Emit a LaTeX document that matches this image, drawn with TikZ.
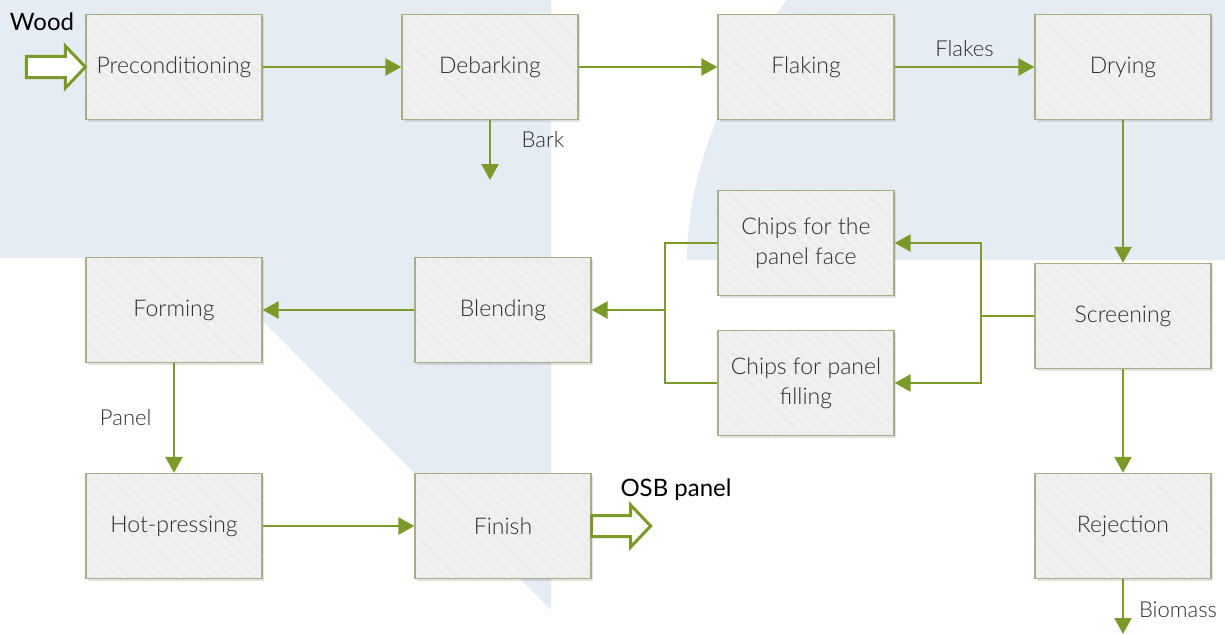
\documentclass[tikz,border=0pt]{standalone}
\usepackage{fontspec}
\setmainfont{Lato}[UprightFont={* Light}]
\newfontfamily\iofont{Lato}
\usepackage{tikz}
\usetikzlibrary{arrows.meta,shadows,patterns.meta,calc}
\definecolor{lgreen}{RGB}{124, 154, 42}
\definecolor{lolive}{RGB}{168, 175, 134}
\definecolor{lgray}{RGB}{237, 237, 237}
\definecolor{lstripe}{RGB}{242, 242, 242}
\definecolor{lblue}{RGB}{229, 236, 244}
\definecolor{dgray}{RGB}{45, 45, 45}

\tikzset{
	stepbox/.style={drop shadow={shadow xshift=1.5pt, shadow yshift=-2.5pt, opacity=0.25, fill=black!45},
		preaction={fill=lgray}, pattern={Lines[angle=-45,distance=8pt,line width=3pt]}, pattern color=lstripe,
		draw=lolive, line width=1.3pt, minimum width=176pt, minimum height=105pt,
		align=center, text=dgray, font=\fontsize{23}{30}\selectfont},
	flow/.style={draw=lgreen, line width=2.5pt, -{Triangle[length=16pt,width=17pt]}},
	link/.style={draw=lgreen, line width=2.5pt},
	bigarrow/.style={draw=lgreen, line width=3pt, fill=white, line join=miter},
	lbl/.style={text=dgray, font=\fontsize{22}{26}\selectfont},
	iolbl/.style={text=black, font=\iofont\fontsize{24}{28}\selectfont}
}

\begin{document}
\begin{tikzpicture}[x=1pt, y=-1pt]
		\useasboundingbox (0,0) rectangle (1225,634);
		% background
		\fill[lblue] (0,0) -- (551,0) -- (551,610) -- (200,258) -- (0,258) -- cycle;
		\fill[lblue] (787,0) .. controls (728,75) and (687,170) .. (687,260) -- (1225,260) -- (1225,0) -- cycle;
		% steps
		\node (pre) at (174,67) [stepbox] {Preconditioning};
		\node (deb) at (490,67) [stepbox] {Debarking};
		\node (flk) at (806,67) [stepbox] {Flaking};
		\node (dry) at (1123,67) [stepbox] {Drying};
		\node (face) at (806,243) [stepbox] {Chips for the\\panel face};
		\node (filling) at (806,383) [stepbox] {Chips for panel\\filling};
		\node (scr) at (1123,316) [stepbox] {Screening};
		\node (rej) at (1123,526) [stepbox] {Rejection};
		\node (blend) at (503,310) [stepbox] {Blending};
		\node (form) at (174,310) [stepbox] {Forming};
		\node (hot) at (174,526) [stepbox] {Hot-pressing};
		\node (fin) at (503,526) [stepbox] {Finish};
		\coordinate (barkend) at (490,180);
		\coordinate (bioend) at (1123,634);
		\coordinate (split) at (981,316);
		\coordinate (merge) at (665,310);
		% labels
		\node (wood) at (42,22) [iolbl] {Wood};
		\node (osb) at (676,490) [iolbl] {OSB panel};
		\node (bark) at (543,140) [lbl] {Bark};
		\node (biom) at (1178,610) [lbl] {Biomass};
		% flows
		\draw[bigarrow] ($(pre.west)+(-59,-10.5)$) -- ++(39,0) -- ++(0,-10.5) -- (pre.west) -- ++(-20,21) -- ++(0,-10.5) -- ++(-39,0) -- cycle;
		\draw[flow] (pre) -- (deb);
		\draw[flow] (deb) -- (barkend);
		\draw[flow] (deb) -- (flk);
		\draw[flow] (flk) -- node[lbl, above=6pt] {Flakes} (dry);
		\draw[flow] (dry) -- (scr);
		\draw[link] (scr) -- (split);
		\draw[flow] (split) |- (face);
		\draw[flow] (split) |- (filling);
		\draw[link] (face) -| (merge);
		\draw[link] (filling) -| (merge);
		\draw[flow] (merge) -- (blend);
		\draw[flow] (blend) -- (form);
		\draw[flow] (form) -- node[lbl, left=18pt] {Panel} (hot);
		\draw[flow] (hot) -- (fin);
		\draw[bigarrow] ($(fin.east)+(0,-10.5)$) -- ++(39,0) -- ++(0,-10.5) -- ++(20,21) -- ++(-20,21) -- ++(0,-10.5) -- ++(-39,0) -- cycle;
		\draw[flow] (scr) -- (rej);
		\draw[flow] (rej) -- (bioend);
\end{tikzpicture}
\end{document}
